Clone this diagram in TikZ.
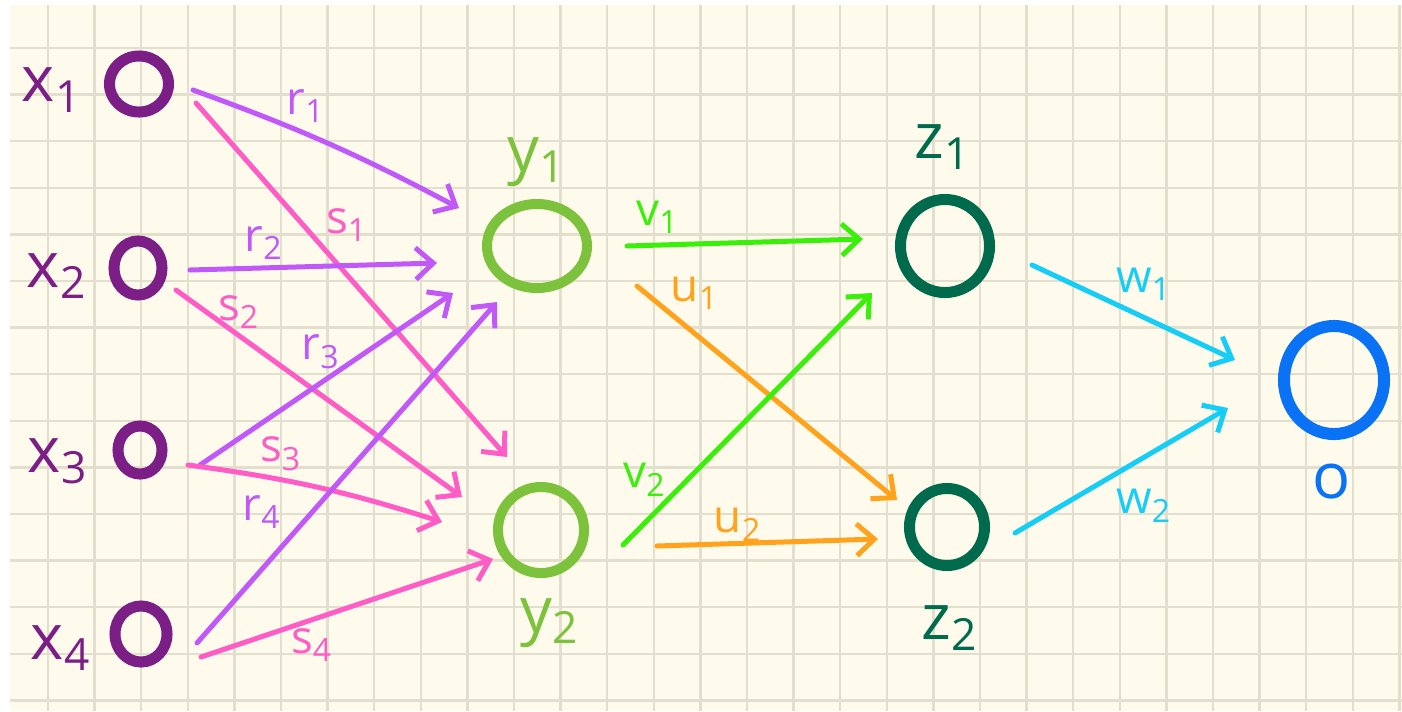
\documentclass[tikz,border=0pt]{standalone}
\usepackage{fontspec}
\setmainfont{Open Sans}
\usepackage{xcolor}
\usetikzlibrary{arrows.meta,shapes.geometric,calc}
\definecolor{papercream}{HTML}{FEFBEC}
\definecolor{gridgrey}{HTML}{E3DFCF}
\definecolor{inpurple}{HTML}{7B1F87}
\definecolor{rviolet}{HTML}{C059F7}
\definecolor{spink}{HTML}{FF5CC6}
\definecolor{hidgreen}{HTML}{7DC23C}
\definecolor{vgreen}{HTML}{3AF00A}
\definecolor{uorange}{HTML}{FFA31C}
\definecolor{zgreen}{HTML}{006B4C}
\definecolor{wcyan}{HTML}{16CDF5}
\definecolor{outblue}{HTML}{0A72F5}

\begin{document}
\begin{tikzpicture}[
  x=0.01cm, y=-0.01cm,
  neuron/.style={ellipse, draw, inner sep=0pt, line width=1.1mm},
  nlab/.style={font=\fontsize{18}{20}\selectfont, inner sep=1pt},
  elab/.style={font=\fontsize{13}{15}\selectfont, inner sep=1pt},
  gridline/.style={draw=gridgrey, line width=0.25mm},
  >={Straight Barb[length=5pt,width=9pt]},
  wire/.style={->, line width=0.5mm, line cap=round},
]
\useasboundingbox (0,0) rectangle (1402,711);
% ----- paper -----
\fill[white] (0,0) rectangle (1402,711);
\fill[papercream] (10,5) rectangle (1402,711);
\foreach \k in {0,...,14} \draw[gridline] (10,{48+46.6*\k}) -- (1402,{48+46.6*\k});
\foreach \k in {0,...,29} \draw[gridline] ({48+46.6*\k},5) -- ({48+46.6*\k},711);
% ----- input layer -----
\node[neuron, draw=inpurple, minimum width=5.9mm, minimum height=5.6mm] (x1) at (139,84) {};
\node[neuron, draw=inpurple, minimum width=4.8mm, minimum height=5.4mm] (x2) at (138,268) {};
\node[neuron, draw=inpurple, minimum width=4.4mm, minimum height=4.8mm] (x3) at (140,450) {};
\node[neuron, draw=inpurple, minimum width=5.2mm, minimum height=5.6mm] (x4) at (141,634) {};
\node[nlab, text=inpurple] (xl1) at (52,90) {x\textsubscript{1}};
\node[nlab, text=inpurple] (xl2) at (57,276) {x\textsubscript{2}};
\node[nlab, text=inpurple] (xl3) at (58,461) {x\textsubscript{3}};
\node[nlab, text=inpurple] (xl4) at (61,648) {x\textsubscript{4}};
% ----- hidden layers -----
\node[neuron, draw=hidgreen, line width=1mm, minimum width=10mm, minimum height=8.4mm] (y1) at (537,246) {};
\node[neuron, draw=hidgreen, line width=1mm, minimum width=8.6mm, minimum height=8.6mm] (y2) at (541,530) {};
\node[nlab, text=hidgreen] (yl1) at (537,162) {y\textsubscript{1}};
\node[nlab, text=hidgreen] (yl2) at (550,623) {y\textsubscript{2}};
\node[neuron, draw=zgreen, minimum width=8.9mm, minimum height=9.3mm] (z1) at (945,246) {};
\node[neuron, draw=zgreen, minimum width=7.5mm, minimum height=7.7mm] (z2) at (947,527) {};
\node[nlab, text=zgreen] (zl1) at (943,147) {z\textsubscript{1}};
\node[nlab, text=zgreen] (zl2) at (950,628) {z\textsubscript{2}};
% ----- output -----
\node[neuron, draw=outblue, line width=1.2mm, minimum width=10mm, minimum height=10.8mm] (o) at (1334,380) {};
\node[nlab, text=outblue] (ol) at (1332,482) {o};
% ----- x -> y -----
\draw[wire, rviolet] ($(x1)+(54,6)$) to[bend left=4] ($(y1)+(-78,-38)$);
\draw[wire, spink] ($(x1)+(57,19)$) -- ($(y2)+(-34,-73)$);
\draw[wire, rviolet] ($(x2)+(52,2)$) -- ($(y1)+(-100,17)$);
\draw[wire, spink] ($(x2)+(38,22)$) -- ($(y2)+(-79,-33)$);
\draw[wire, rviolet] ($(x3)+(60,15)$) -- ($(y1)+(-84,47)$);
\draw[wire, spink] ($(x3)+(48,15)$) to[bend left=5] ($(y2)+(-99,-8)$);
\draw[wire, rviolet] ($(x4)+(56,9)$) -- ($(y1)+(-40,56)$);
\draw[wire, spink] ($(x4)+(60,23)$) -- ($(y2)+(-48,29)$);
\node[elab, text=rviolet] (lr1) at (306,106) {r\textsubscript{1}};
\node[elab, text=spink] (ls1) at (347,225) {s\textsubscript{1}};
\node[elab, text=rviolet] (lr2) at (264,243) {r\textsubscript{2}};
\node[elab, text=spink] (ls2) at (239,312) {s\textsubscript{2}};
\node[elab, text=rviolet] (lr3) at (321,352) {r\textsubscript{3}};
\node[elab, text=spink] (ls3) at (281,454) {s\textsubscript{3}};
\node[elab, text=rviolet] (lr4) at (262,512) {r\textsubscript{4}};
\node[elab, text=spink] (ls4) at (312,645) {s\textsubscript{4}};
% ----- y -> z -----
\draw[wire, vgreen] ($(y1)+(90,0)$) -- ($(z1)+(-82,-7)$);
\draw[wire, uorange] ($(y1)+(100,40)$) -- ($(z2)+(-50,-27)$);
\draw[wire, vgreen] ($(y2)+(82,15)$) -- ($(z1)+(-73,47)$);
\draw[wire, uorange] ($(y2)+(116,16)$) -- ($(z2)+(-69,12)$);
\node[elab, text=vgreen] (lv1) at (658,217) {v\textsubscript{1}};
\node[elab, text=uorange] (lu1) at (695,293) {u\textsubscript{1}};
\node[elab, text=vgreen] (lv2) at (645,480) {v\textsubscript{2}};
\node[elab, text=uorange] (lu2) at (738,525) {u\textsubscript{2}};
% ----- z -> o -----
\draw[wire, wcyan] ($(z1)+(87,19)$) -- ($(o)+(-99,-20)$);
\draw[wire, wcyan] ($(z2)+(68,6)$) -- ($(o)+(-106,28)$);
\node[elab, text=wcyan] (lw1) at (1144,284) {w\textsubscript{1}};
\node[elab, text=wcyan] (lw2) at (1144,506) {w\textsubscript{2}};
\end{tikzpicture}
\end{document}
